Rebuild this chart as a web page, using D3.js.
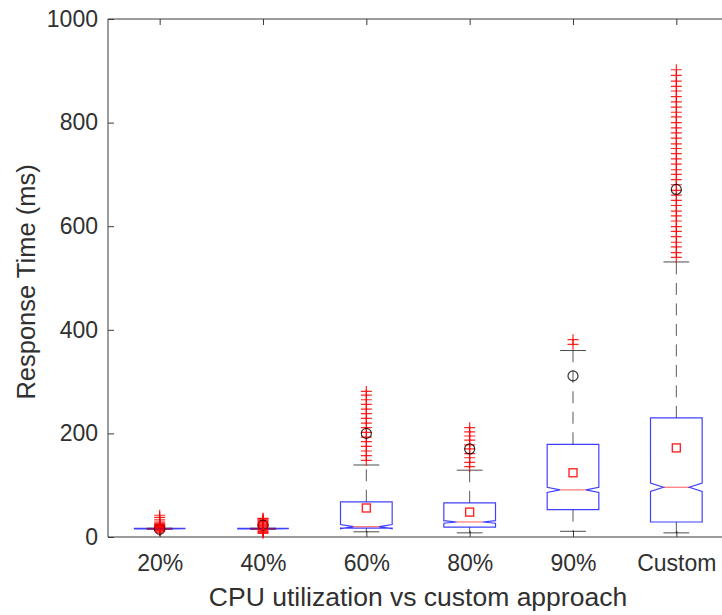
<!DOCTYPE html>
<html>
<head>
<meta charset="utf-8">
<script src="https://cdn.jsdelivr.net/npm/d3@7"></script>
<style>
  body { margin: 0; background: #fff; }
  svg { display: block; font-family: "Liberation Sans", Arial, sans-serif; }
</style>
</head>
<body>
<div id="chart"></div>
<script>
// Chart data
const groups = ["20%", "40%", "60%", "80%", "90%", "Custom"];
const q1 = [15.5, 15.5, 17, 19, 53, 29];
const medians = [16, 16, 20, 29, 91, 96];
const q3 = [16.5, 16.5, 68, 66, 179, 230];
const notchHalf = [0.5, 0.5, 4, 2.5, 5, 8];
const whiskerLow = [15, 15, 10, 8, 11, 8];
const whiskerHigh = [17, 17, 139, 129, 360, 531];
const means = [17, 22, 56, 48, 124, 172];     // red squares
const circles = [15, 23, 200, 170, 311, 671]; // black circles
const outliers = [
    [12, 13, 14, 18, 19, 20, 21, 22, 23, 24, 25, 27, 29, 33, 38, 42],
    [7, 9, 11, 13, 19, 21, 23, 25, 27, 29, 31, 33, 35, 36],
    [148, 157, 166, 175, 184, 193, 202, 211, 220, 229, 238, 247, 256, 265, 274, 281],
    [136, 144, 153, 161, 170, 178, 187, 195, 203, 211],
    [372, 381],
    [540, 549, 560, 569, 580, 590, 599, 610, 620, 629, 640, 650, 660, 669, 680, 690, 700, 709,
     720, 730, 740, 750, 759, 770, 780, 790, 800, 811, 820, 830, 840, 850, 861, 870, 880, 891, 902]
];
const yTicks = [0, 200, 400, 600, 800, 1000];

// Dimensions
const width = 722;
const height = 615;
const margin = { left: 108, right: -6, top: 19, bottom: 78 };

const svg = d3.select("#chart")
    .append("svg")
    .attr("width", width)
    .attr("height", height);

// Scales
const x = d3.scalePoint()
    .domain(groups)
    .range([margin.left, width - margin.right])
    .padding(0.5);

const y = d3.scaleLinear()
    .domain([0, 1000])
    .range([height - margin.bottom, margin.top]);

const halfW = x.step() * 0.25;
const axisColor = "#3a3a3a";
const textColor = "#303030";

// Axes
const yAxis = d3.axisLeft(y).tickValues(yTicks).tickSize(-6).tickPadding(10).tickFormat(d3.format("d"));
const xAxis = d3.axisBottom(x).tickSize(-6).tickPadding(18);
const xTop = d3.axisTop(x).tickSize(-6).tickFormat("");

const gy = svg.append("g")
    .attr("transform", `translate(${margin.left},0)`)
    .call(yAxis);
const gx = svg.append("g")
    .attr("transform", `translate(0,${y(0)})`)
    .call(xAxis);
const gt = svg.append("g")
    .attr("transform", `translate(0,${y(1000)})`)
    .call(xTop);

[gy, gx, gt].forEach(g => {
    g.select(".domain").attr("stroke", axisColor).attr("stroke-width", 1);
    g.selectAll(".tick line").attr("stroke", axisColor).attr("stroke-width", 1);
    g.selectAll(".tick text")
        .attr("fill", textColor)
        .style("font-size", "23px")
        .style("font-family", "'Liberation Sans', Arial, sans-serif");
});
// MATLAB axes have no outer tick ends
gy.select(".domain").attr("d", `M0,${y(1000)}V${y(0)}`);
gx.select(".domain").attr("d", `M${margin.left},0H${width - margin.right}`);
gt.select(".domain").attr("d", `M${margin.left},0H${width - margin.right}`);

// Axis labels
svg.append("text")
    .attr("x", (margin.left + width - margin.right) / 2)
    .attr("y", 606)
    .attr("text-anchor", "middle")
    .attr("fill", textColor)
    .style("font-size", "26.5px")
    .text("CPU utilization vs custom approach");

svg.append("text")
    .attr("transform", `translate(35,${(y(0) + y(1000)) / 2 + 4}) rotate(-90)`)
    .attr("text-anchor", "middle")
    .attr("fill", textColor)
    .style("font-size", "25.5px")
    .text("Response Time (ms)");

// Boxes
const plot = svg.append("g");

groups.forEach((g, i) => {
    const cx = x(g);
    const n = notchHalf[i];

    // whiskers (dashed)
    [[q3[i], whiskerHigh[i]], [q1[i], whiskerLow[i]]].forEach(([from, to]) => {
        plot.append("line")
            .attr("x1", cx).attr("x2", cx)
            .attr("y1", y(from)).attr("y2", y(to))
            .attr("stroke", "#000")
            .attr("stroke-opacity", 0.65)
            .attr("stroke-width", 1)
            .attr("stroke-dasharray", "12,8.5");
    });
    // whisker caps
    [whiskerLow[i], whiskerHigh[i]].forEach(v => {
        plot.append("line")
            .attr("x1", cx - halfW / 2).attr("x2", cx + halfW / 2)
            .attr("y1", y(v)).attr("y2", y(v))
            .attr("stroke", "#000")
            .attr("stroke-opacity", 0.7)
            .attr("stroke-width", 1);
    });

    // notched box
    const pts = [
        [cx - halfW, y(q1[i])], [cx - halfW, y(medians[i] - n)], [cx - halfW / 2, y(medians[i])],
        [cx - halfW, y(medians[i] + n)], [cx - halfW, y(q3[i])], [cx + halfW, y(q3[i])],
        [cx + halfW, y(medians[i] + n)], [cx + halfW / 2, y(medians[i])], [cx + halfW, y(medians[i] - n)],
        [cx + halfW, y(q1[i])]
    ];
    plot.append("path")
        .attr("d", d3.line()(pts) + "Z")
        .attr("fill", "none")
        .attr("stroke", "#0000ff")
        .attr("stroke-opacity", 0.75)
        .attr("stroke-width", 1.2);

    // median
    plot.append("line")
        .attr("x1", cx - halfW / 2).attr("x2", cx + halfW / 2)
        .attr("y1", y(medians[i])).attr("y2", y(medians[i]))
        .attr("stroke", "#ff0000")
        .attr("stroke-opacity", 0.55)
        .attr("stroke-width", 1.2);

    // outliers
    plot.selectAll(null)
        .data(outliers[i])
        .enter()
        .append("path")
        .attr("transform", d => `translate(${cx},${y(d)})`)
        .attr("d", "M-5.5,0H5.5M0,-5.5V5.5")
        .attr("stroke", "#ff0000")
        .attr("stroke-opacity", 0.85)
        .attr("stroke-width", 1.2);

    // black circle marker
    plot.append("circle")
        .attr("cx", cx)
        .attr("cy", y(circles[i]))
        .attr("r", 5)
        .attr("fill", "none")
        .attr("stroke", "#000")
        .attr("stroke-opacity", 0.8)
        .attr("stroke-width", 1.2);

    // red square (mean)
    plot.append("rect")
        .attr("x", cx - 4)
        .attr("y", y(means[i]) - 4)
        .attr("width", 8)
        .attr("height", 8)
        .attr("fill", "none")
        .attr("stroke", "#ff0000")
        .attr("stroke-opacity", 0.85)
        .attr("stroke-width", 1.4);
});
</script>
</body>
</html>
